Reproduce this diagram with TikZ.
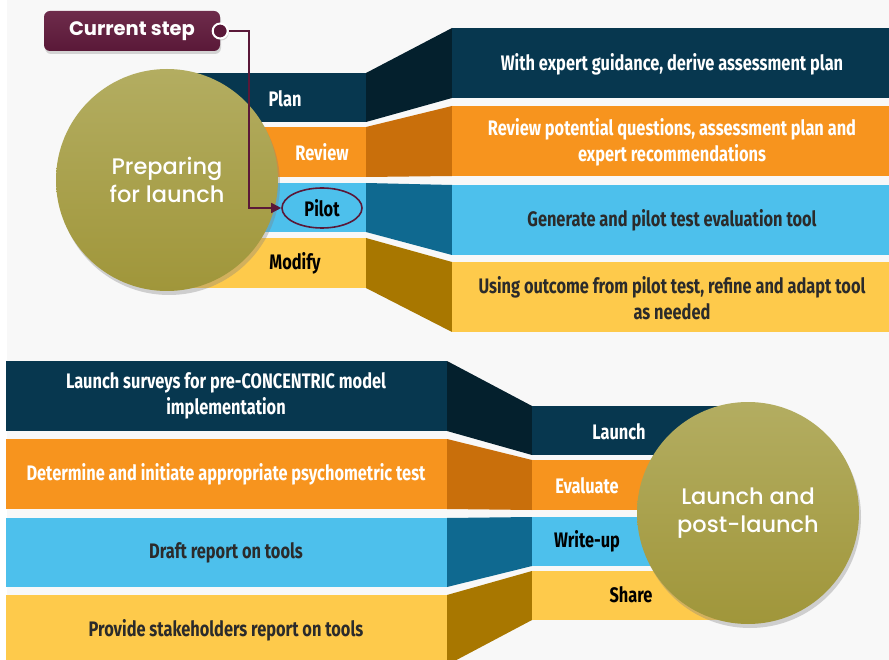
\documentclass[tikz,border=0pt]{standalone}
\usepackage{fontspec}
\setmainfont{Fira Sans}
\newfontfamily\condfont{Fira Sans}[FakeStretch=0.78]
\newfontfamily\roundfont{Poppins}
\newfontfamily\roundmed{Poppins}[UprightFont=* Medium]
\usetikzlibrary{shapes.geometric,shadows,arrows.meta,positioning}

\definecolor{navy}{HTML}{07374F}
\definecolor{navyD}{HTML}{04202D}
\definecolor{orng}{HTML}{F7941E}
\definecolor{orngD}{HTML}{C96F0B}
\definecolor{lblue}{HTML}{4DC0EC}
\definecolor{lblueD}{HTML}{0F6990}
\definecolor{yell}{HTML}{FECA4B}
\definecolor{yellD}{HTML}{A87700}
\definecolor{oliveT}{HTML}{B3AD61}
\definecolor{oliveB}{HTML}{A0963A}
\definecolor{maroonT}{HTML}{6E2C4B}
\definecolor{maroon}{HTML}{5A1838}
\definecolor{ink}{HTML}{2B2B2B}
\definecolor{bg}{HTML}{F8F8F8}

\tikzset{
  bigdot/.style={circle, minimum size=222pt, inner sep=0pt, top color=oliveT, bottom color=oliveB,
    drop shadow={opacity=0.35, shadow xshift=2pt, shadow yshift=-4pt},
    text=white, align=center, font=\roundmed\fontsize{22.5}{28}\selectfont},
  lbl/.style={font=\condfont\bfseries\fontsize{21}{24}\selectfont, inner sep=1pt},
  wtxt/.style={font=\condfont\bfseries\fontsize{21}{26}\selectfont, align=center, inner sep=1pt},
  curbox/.style={rounded corners=6pt, minimum width=176pt, minimum height=40pt, top color=maroonT, bottom color=maroon,
    drop shadow={opacity=0.3, shadow xshift=1pt, shadow yshift=-3pt},
    text=white, font=\roundfont\bfseries\fontsize{19.5}{21}\selectfont},
  curmark/.style={circle, minimum size=15pt, inner sep=0pt, fill=maroon, draw=white, line width=2pt,
    drop shadow={opacity=0.3, shadow xshift=1pt, shadow yshift=-2pt}},
}

\begin{document}
\begin{tikzpicture}[x=1pt,y=-1pt]
\useasboundingbox (0,0) rectangle (889,660);
\fill[bg] (7,0) rectangle (889,660);

% top half: preparing for launch
\foreach \c/\n/\a/\b/\p/\q in {navy/navyD/73/122/28/98, orng/orngD/127/177/106/176,
    lblue/lblueD/183/232/185/255, yell/yellD/238/288/262/332}{
  \fill[\c] (190,\a) rectangle (366,\b);
  \fill[\n] (366,\a) -- (452,\p) -- (452,\q) -- (366,\b) -- cycle;
  \fill[\c] (452,\p) rectangle (889,\q);
}
\node[bigdot] (prep) at (167,180) {Preparing\\for launch};

\node[lbl,text=white] (plan) at (285,99) {Plan};
\node[lbl,text=white] (review) at (322,152) {Review};
\node[lbl,text=black, ellipse, draw=maroon, fill=lblue, line width=1.6pt, minimum width=80pt, minimum height=40pt] (pilot) at (322,208) {Pilot};
\node[lbl,text=black] (modify) at (295,263) {Modify};

\node[wtxt,text=white] (wplan) at (672,64) {With expert guidance, derive assessment plan};
\node[wtxt,text=white] (wreview) at (672,142) {Review potential questions, assessment plan and\\expert recommendations};
\node[wtxt,text=ink] (wpilot) at (672,220) {Generate and pilot test evaluation tool};
\node[wtxt,text=ink] (wmodify) at (672,298) {Using outcome from pilot test, refine and adapt tool\\as needed};

% current step marker
\node[curbox] (cur) at (132,31) {Current step};
\node[curmark] (mark) at (cur.east) {};
\draw[maroon, line width=1.6pt, -{Triangle[length=10pt,width=10pt]}] (mark.east) -- ++(20,0) |- (pilot.west);

% bottom half: launch and post-launch
\foreach \c/\n/\a/\b/\p/\q in {navy/navyD/361/431/406/455, orng/orngD/439/509/460/510,
    lblue/lblueD/518/587/517/566, yell/yellD/595/665/571/620}{
  \fill[\c] (6,\a) rectangle (447,\b);
  \fill[\n] (447,\a) -- (532,\p) -- (532,\q) -- (447,\b) -- cycle;
  \fill[\c] (532,\p) rectangle (760,\q);
}
\node[bigdot] (post) at (748,513) {Launch and\\post-launch};

\node[lbl,text=white] (launch) at (619,432) {Launch};
\node[lbl,text=white] (evaluate) at (587,486) {Evaluate};
\node[lbl,text=black] (writeup) at (587,541) {Write-up};
\node[lbl,text=black] (share) at (631,595) {Share};

\node[wtxt,text=white] (blaunch) at (226,396) {Launch surveys for pre-CONCENTRIC model\\implementation};
\node[wtxt,text=white] (bevaluate) at (226,474) {Determine and initiate appropriate psychometric test};
\node[wtxt,text=ink] (bwriteup) at (226,553) {Draft report on tools};
\node[wtxt,text=ink] (bshare) at (226,630) {Provide stakeholders report on tools};
\end{tikzpicture}
\end{document}
